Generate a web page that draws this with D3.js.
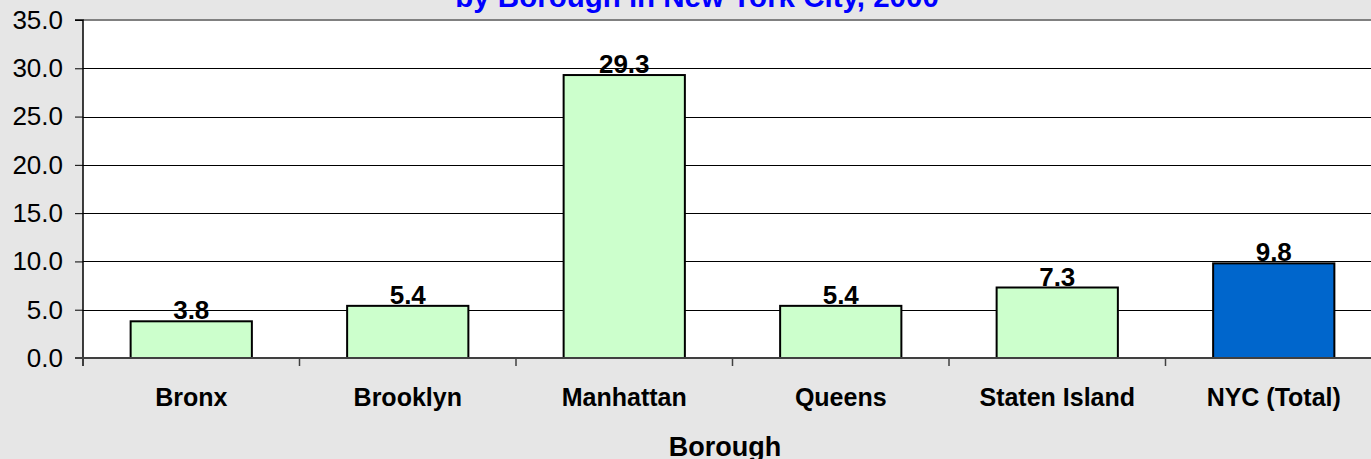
<!DOCTYPE html>
<html>
<head>
<meta charset="utf-8">
<script src="https://cdn.jsdelivr.net/npm/d3@7"></script>
<style>
  html, body { margin: 0; padding: 0; background: #e6e6e6; }
  svg { display: block; }
  text { font-family: "Liberation Sans", Arial, sans-serif; }
</style>
</head>
<body>
<script>
const categories = ["Bronx", "Brooklyn", "Manhattan", "Queens", "Staten Island", "NYC (Total)"];
const values = [3.8, 5.4, 29.3, 5.4, 7.3, 9.8];
const yTicks = [0, 5, 10, 15, 20, 25, 30, 35];
const titleText = "by Borough in New York City, 2000";
const xAxisTitle = "Borough";

const W = 1371, H = 459;
const svg = d3.select("body").append("svg").attr("width", W).attr("height", H);
svg.append("rect").attr("width", W).attr("height", H).attr("fill", "#e6e6e6");

const pLeft = 83, pRight = 1382, pTop = 20, pBottom = 358;

const x = d3.scaleBand().domain(categories).range([pLeft, pRight]).paddingInner(0).paddingOuter(0);
const y = d3.scaleLinear().domain([0, 35]).range([pBottom, pTop]);

// plot area
svg.append("rect").attr("x", pLeft).attr("y", pTop).attr("width", pRight - pLeft).attr("height", pBottom - pTop).attr("fill", "#ffffff");

// gridlines
svg.append("g").selectAll("line").data(yTicks.filter(t => t > 0 && t < 35)).join("line")
  .attr("x1", pLeft).attr("x2", pRight)
  .attr("y1", d => Math.round(y(d)) + 0.5).attr("y2", d => Math.round(y(d)) + 0.5)
  .attr("stroke", "#000").attr("stroke-width", 1);

// top border
svg.append("line").attr("x1", pLeft).attr("x2", pRight).attr("y1", pTop).attr("y2", pTop)
  .attr("stroke", "#808080").attr("stroke-width", 2);

// bars
const bw = x.bandwidth() * 0.56;
svg.append("g").selectAll("rect").data(values).join("rect")
  .attr("x", (d, i) => x(categories[i]) + (x.bandwidth() - bw) / 2)
  .attr("y", d => y(d))
  .attr("width", bw)
  .attr("height", d => y(0) - y(d))
  .attr("fill", (d, i) => i === categories.length - 1 ? "#0066cc" : "#ccffcc")
  .attr("stroke", "#000").attr("stroke-width", 2);

// value labels
svg.append("g").selectAll("text").data(values).join("text")
  .attr("x", (d, i) => x(categories[i]) + x.bandwidth() / 2)
  .attr("y", d => y(d) - 2)
  .attr("text-anchor", "middle")
  .attr("font-weight", "bold").attr("font-size", 26).attr("fill", "#000")
  .text(d => d.toFixed(1));

// y axis
const yAxis = d3.axisLeft(y).tickValues(yTicks).tickFormat(d3.format(".1f")).tickSize(8).tickPadding(12);
const gy = svg.append("g").attr("transform", `translate(${pLeft},0)`).call(yAxis);
gy.select(".domain").attr("stroke", "#000").attr("stroke-width", 1.5).attr("d", `M-8,${pTop}H0V${pBottom + 8}`);
gy.selectAll(".tick line").attr("stroke", "#000");
gy.selectAll(".tick text").attr("font-size", 26).attr("fill", "#000")
  .attr("font-family", "'Liberation Sans', Arial, sans-serif");

// x axis
const xAxis = d3.axisBottom(x).tickSize(0).tickPadding(30);
const gx = svg.append("g").attr("transform", `translate(0,${pBottom})`).call(xAxis);
gx.select(".domain").attr("stroke", "#404040").attr("stroke-width", 2).attr("d", `M${pLeft - 8},0H${pRight}`);
gx.selectAll(".tick text").attr("font-size", 25).attr("font-weight", "bold").attr("fill", "#000")
  .attr("font-family", "'Liberation Sans', Arial, sans-serif");
// category boundary ticks
const bounds = categories.map(c => x(c)).concat([pRight]);
svg.append("g").selectAll("line").data(bounds).join("line")
  .attr("x1", d => d).attr("x2", d => d).attr("y1", pBottom).attr("y2", pBottom + 8)
  .attr("stroke", "#404040").attr("stroke-width", 1.5);

// titles
svg.append("text").attr("x", 697).attr("y", 7).attr("text-anchor", "middle")
  .attr("font-size", 29.5).attr("font-weight", "bold").attr("fill", "#0000ff").text(titleText);
svg.append("text").attr("x", 725).attr("y", 456).attr("text-anchor", "middle")
  .attr("font-size", 27).attr("font-weight", "bold").attr("fill", "#000").text(xAxisTitle);
</script>
</body>
</html>
